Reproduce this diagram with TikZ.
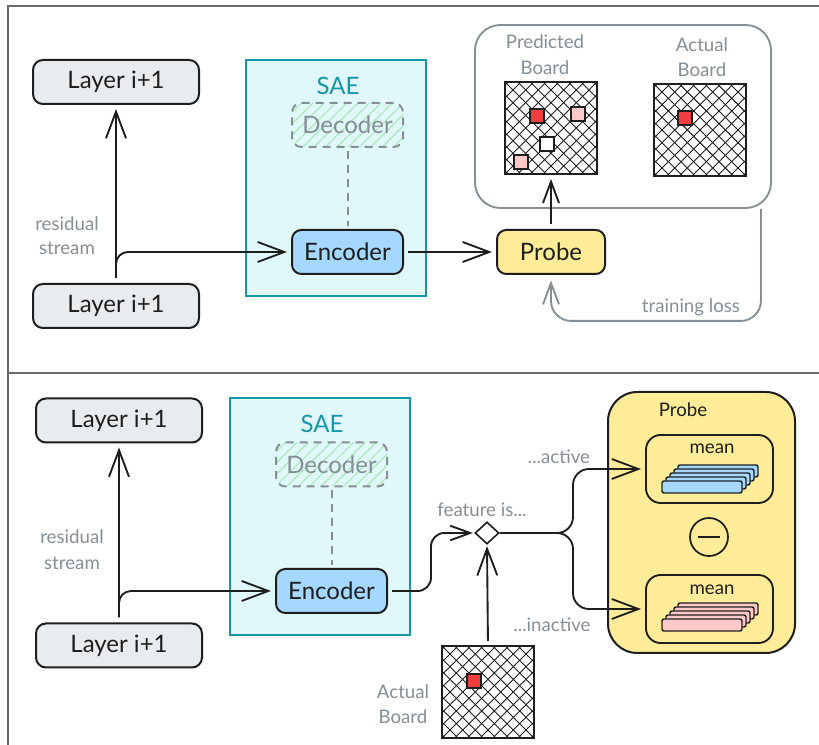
\documentclass[tikz,border=0pt]{standalone}
\usepackage{fontspec}
\setmainfont{Lato}
\usetikzlibrary{arrows.meta,calc,shapes.geometric}

\definecolor{ink}{HTML}{1E1E1E}
\definecolor{muted}{HTML}{868E96}
\definecolor{framegray}{HTML}{6A6A6A}
\definecolor{layerfill}{HTML}{E9ECEF}
\definecolor{saefill}{HTML}{E0F8FA}
\definecolor{saeline}{HTML}{1696A8}
\definecolor{encfill}{HTML}{A5D8FF}
\definecolor{probefill}{HTML}{FFEC99}
\definecolor{hatchgreen}{HTML}{A3E8AE}
\definecolor{cellred}{HTML}{F03E3E}
\definecolor{cellpink}{HTML}{FFC9C9}

\tikzset{
  bigtext/.style={font=\fontsize{18}{20}\selectfont},
  smalltext/.style={font=\fontsize{14}{16}\selectfont},
  layerbox/.style={draw=ink, line width=1.5pt, fill=layerfill, rounded corners=7.5pt,
    minimum width=124.5pt, minimum height=33pt, inner sep=0pt, bigtext, text=ink},
  encbox/.style={draw=ink, line width=1.5pt, fill=encfill, rounded corners=7pt,
    minimum width=83.25pt, minimum height=33pt, inner sep=0pt, bigtext, text=ink},
  probebox/.style={draw=ink, line width=1.5pt, fill=probefill, rounded corners=7pt,
    minimum width=81pt, minimum height=33pt, inner sep=0pt, bigtext, text=ink},
  decbox/.style={draw=muted, line width=1.5pt, dash pattern=on 6pt off 4.5pt,
    rounded corners=7pt, minimum width=83.25pt, minimum height=33pt, inner sep=0pt,
    bigtext, text=muted,
    path picture={
      \foreach \k in {-9,...,9}{
        \draw[hatchgreen, line width=0.75pt, solid]
          ($(path picture bounding box.center)+(\k*8.5pt-25pt,-25pt)$) -- ++(50pt,50pt);
      }}},
  saebox/.style={draw=saeline, line width=1.3pt, fill=saefill, inner sep=0pt},
  saelabel/.style={bigtext, text=saeline},
  board/.style={draw=ink, line width=1.5pt, fill=white, minimum size=69pt, inner sep=0pt,
    path picture={
      \foreach \k in {-10,...,10}{
        \draw[ink, line width=0.7pt]
          ($(path picture bounding box.center)+(\k*9.5pt-40pt,-40pt)$) -- ++(80pt,80pt);
        \draw[ink, line width=0.7pt]
          ($(path picture bounding box.center)+(\k*9.5pt+40pt,-40pt)$) -- ++(-80pt,80pt);
      }}},
  cell/.style={draw=ink, line width=1.2pt},
  graylabel/.style={smalltext, text=muted, inner sep=0pt},
  conn/.style={draw=ink, line width=1.4pt},
  grayconn/.style={draw=muted, line width=1.4pt},
  tipbig/.style={-{Straight Barb[length=20pt,width=15pt]}},
  tipmid/.style={-{Straight Barb[length=16pt,width=12pt]}},
  tipsmall/.style={-{Straight Barb[length=15pt,width=11pt]}},
  framerule/.style={draw=framegray, line width=1.1pt},
  meanbox/.style={draw=ink, line width=1.4pt, rounded corners=11pt,
    minimum width=95.25pt, minimum height=51pt, inner sep=0pt},
  bar/.style={draw=ink, line width=1.1pt, rounded corners=1.5pt},
}

\begin{document}
\begin{tikzpicture}[x=0.75pt,y=-0.75pt]
  % canvas
  \fill[white] (0,0) rectangle (819,745);
  \useasboundingbox (0,0) rectangle (819,745);

  % panel frame
  \draw[framerule] (8,745) -- (8,6) -- (819,6);
  \draw[framerule] (8,373) -- (819,373);

  % ================= upper panel: training the probe =================
  \node[saebox, minimum width=135pt, minimum height=177pt] (sae1) at (336,178) {};
  \node[saelabel] (sae1lbl) at (338,86) {SAE};
  \node[decbox] (dec1) at (347.5,125) {Decoder};
  \node[encbox] (enc1) at (347.5,252) {Encoder};

  \node[layerbox] (lay1t) at (116,82) {Layer i+1};
  \node[layerbox] (lay1b) at (116,306) {Layer i+1};
  \node[graylabel] (res1a) at (67,224) {residual};
  \node[graylabel] (res1b) at (67,248) {stream};

  \node[probebox] (probe1) at (551,252) {Probe};

  % boards compared by the loss
  \node[draw=muted, line width=1.4pt, rounded corners=19pt,
        minimum width=222pt, minimum height=137.25pt, inner sep=0pt] (outc) at (623,116.5) {};
  \node[graylabel] (predA) at (545,42) {Predicted};
  \node[graylabel] (predB) at (545,68) {Board};
  \node[graylabel] (actA) at (702,45) {Actual};
  \node[graylabel] (actB) at (702,70) {Board};
  \node[board] (pboard) at (551,128) {};
  \node[board] (aboard) at (700,130) {};
  \draw[cell, fill=cellred]  ($(pboard.north west)+(26,28)$) rectangle ++(14,14);
  \draw[cell, fill=cellpink] ($(pboard.north west)+(67,26)$) rectangle ++(14,14);
  \draw[cell, fill=white]    ($(pboard.north west)+(36,56)$) rectangle ++(14,14);
  \draw[cell, fill=cellpink] ($(pboard.north west)+(10,74)$) rectangle ++(14,14);
  \draw[cell, fill=cellred]  ($(aboard.north west)+(25,28)$) rectangle ++(14,14);

  \node[graylabel] (lossA) at (691,307) {training loss};

  % upper connectors
  \draw[conn, tipbig, shorten <=4pt, shorten >=3pt] (lay1b.north) -- (lay1t.south);
  \draw[conn, tipbig, rounded corners=9pt, shorten >=3pt]
    ($(lay1b.north)+(0,-5)$) |- (enc1.west);
  \draw[muted, line width=1.5pt, dash pattern=on 6pt off 4.5pt, shorten <=2pt, shorten >=2pt]
    (dec1.south) -- (enc1.north);
  \draw[conn, tipbig, shorten <=3pt, shorten >=3pt] (enc1.east) -- (probe1.west);
  \draw[conn, tipmid, shorten <=4pt, shorten >=3pt] (probe1.north) -- (pboard.south);
  \draw[grayconn, tipmid, rounded corners=15pt, shorten >=4pt]
    ($(outc.south east)+(-11,0)$) -- ++(0,112) -| (probe1.south);

  % ================= lower panel: probing with feature means =================
  \node[saebox, minimum width=135pt, minimum height=177.75pt] (sae2) at (320,516.5) {};
  \node[saelabel] (sae2lbl) at (322,424) {SAE};
  \node[decbox] (dec2) at (331.5,464.5) {Decoder};
  \node[encbox] (enc2) at (331.5,591) {Encoder};

  \node[layerbox] (lay2t) at (119,420.5) {Layer i+1};
  \node[layerbox] (lay2b) at (119,645.5) {Layer i+1};
  \node[graylabel] (res2a) at (72,537) {residual};
  \node[graylabel] (res2b) at (72,563) {stream};

  \node[draw=ink, line width=1.2pt, fill=white, shape=diamond, inner sep=0pt,
        minimum width=18pt, minimum height=16.5pt] (dia) at (487,533) {};
  \node[graylabel] (featlbl) at (482,510) {feature is...};
  \node[graylabel] (actlbl) at (559,457) {...active};
  \node[graylabel] (inactlbl) at (552,625) {...inactive};
  \coordinate (split) at (573,533);

  \node[board] (bboard) at (488,692) {};
  \draw[cell, fill=cellred] ($(bboard.north west)+(26,29)$) rectangle ++(14,14);
  \node[graylabel] (bactA) at (403,692) {Actual};
  \node[graylabel] (bactB) at (403,717) {Board};

  % probe built from the two means
  \node[draw=ink, line width=1.5pt, fill=probefill, rounded corners=22pt,
        minimum width=140.25pt, minimum height=195.75pt, inner sep=0pt] (probe2) at (701.5,522.5) {};
  \node[smalltext, text=ink, inner sep=0pt] (probe2lbl) at (683,410) {Probe};
  \node[meanbox] (m1) at (709.5,469) {};
  \node[meanbox] (m2) at (709.5,609) {};
  \node[smalltext, text=ink, inner sep=0pt] (m1lbl) at (712,449) {mean};
  \node[smalltext, text=ink, inner sep=0pt] (m2lbl) at (712,590) {mean};
  \foreach \i in {4,3,2,1,0}{
    \draw[bar, fill=encfill]   (662+4*\i,481-4*\i) rectangle ++(80,12);
    \draw[bar, fill=cellpink]  (662+4*\i,619-4*\i) rectangle ++(80,12);
  }
  \node[draw=ink, line width=1.3pt, circle, minimum size=28.5pt, inner sep=0pt] (minus) at (709,537) {};
  \draw[ink, line width=1.3pt] ($(minus.center)+(-8.5pt,0)$) -- ($(minus.center)+(8.5pt,0)$);

  % lower connectors
  \draw[conn, tipbig, shorten <=4pt, shorten >=3pt] (lay2b.north) -- (lay2t.south);
  \draw[conn, tipbig, rounded corners=9pt, shorten >=3pt]
    ($(lay2b.north)+(0,-5)$) |- (enc2.west);
  \draw[muted, line width=1.5pt, dash pattern=on 6pt off 4.5pt, shorten <=2pt, shorten >=2pt]
    (dec2.south) -- (enc2.north);
  \draw[conn, tipsmall, rounded corners=10pt, shorten <=3pt, shorten >=1pt]
    (enc2.east) -- ++(43,0) |- (dia.west);
  \draw[conn, tipbig, shorten <=3pt, shorten >=1pt] (bboard.north) -- (dia.south);
  \draw[conn, tipbig, rounded corners=12pt, shorten >=3pt] (dia.east) -- (split) |- (m1.west);
  \draw[conn, tipbig, rounded corners=12pt, shorten >=3pt] (dia.east) -- (split) |- (m2.west);
\end{tikzpicture}
\end{document}
